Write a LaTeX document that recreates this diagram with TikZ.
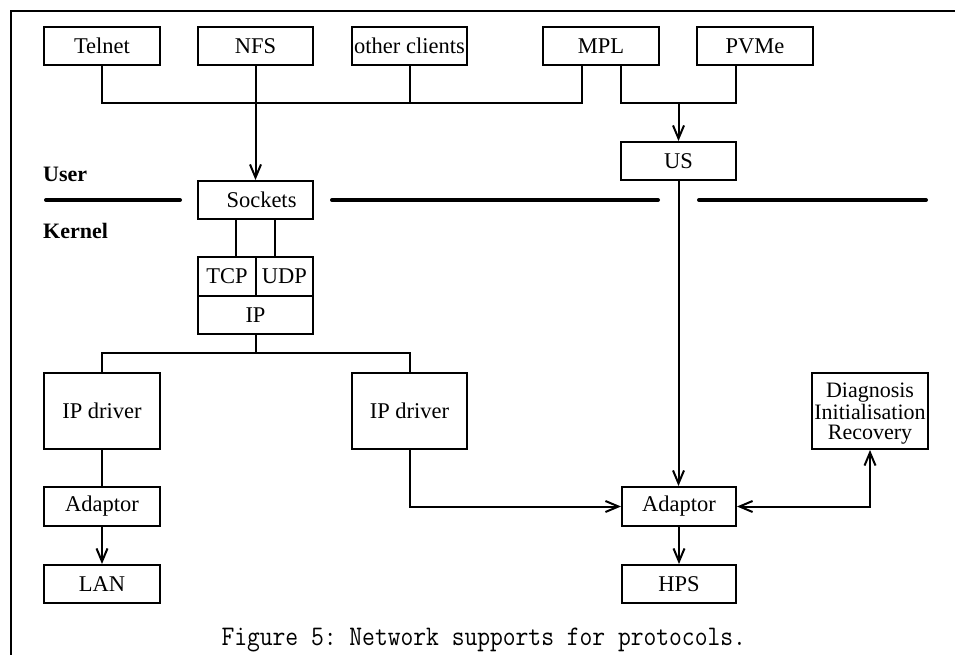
\documentclass[tikz,border=0pt]{standalone}
\usepackage{fontspec}
\setmainfont{Liberation Serif}
\usetikzlibrary{arrows.meta}
\begin{document}
\begin{tikzpicture}[x=1pt,y=-1pt,
  box/.style={draw,line width=2pt,inner sep=0pt,minimum height=38pt,
     font=\fontsize{22.5}{20}\selectfont},
  txt/.style={inner sep=0pt,font=\fontsize{22}{20}\selectfont,align=center},
  conn/.style={line width=2pt},
  arr/.style={conn,-{Straight Barb[length=13pt,width=11pt,line width=2pt]}},
  arrboth/.style={conn,{Straight Barb[length=13pt,width=11pt,line width=2pt]}-{Straight Barb[length=13pt,width=11pt,line width=2pt]}},
  sep/.style={line width=4pt,line cap=round},
  lbl/.style={font=\fontsize{22}{24}\selectfont\bfseries,anchor=base west,inner sep=0pt}]
\useasboundingbox (0,0) rectangle (955,655);
% frame
\draw[line width=2.4pt] (11,655) -- (11,11) -- (955,11);
% top row
\node[box,minimum width=116pt] (Telnet) at (102,46) {Telnet\hspace{17pt}};
\node[box,minimum width=115pt] (NFS) at (255.5,46) {NFS\hspace{18pt}};
\node[box,minimum width=115pt] (other) at (409.5,46) {other clients};
\node[box,minimum width=116pt] (MPL) at (601,46) {MPL\hspace{10pt}};
\node[box,minimum width=116pt] (PVMe) at (755,46) {PVMe};
\node[box,minimum width=115pt] (US) at (678.5,161) {US};
\node[box,minimum width=115pt] (Sockets) at (255.5,200) {\hspace{12pt}Sockets};
\node[box,minimum width=58pt,minimum height=39pt] (TCP) at (227,276.5) {TCP};
\node[box,minimum width=57pt,minimum height=39pt] (UDP) at (284.5,276.5) {UDP};
\node[box,minimum width=115pt] (IP) at (255.5,315) {IP};
\node[box,minimum width=116pt,minimum height=76pt] (IPdrvL) at (102,411) {IP driver};
\node[box,minimum width=115pt,minimum height=76pt] (IPdrvR) at (409.5,411) {IP driver};
\node[box,minimum width=116pt,minimum height=39pt] (AdL) at (102,506.5) {Adaptor};
\node[box,minimum width=116pt] (LAN) at (102,584) {LAN};
\node[box,minimum width=114pt,minimum height=39pt] (AdR) at (679,506.5) {Adaptor};
\node[box,minimum width=114pt] (HPS) at (679,584) {HPS};
\node[box,minimum width=116pt,minimum height=76pt] (Diag) at (870,411) {};
\node[txt,anchor=base] (diagtxt) at (870,439) {Diagnosis\\Initialisation\\Recovery};
% labels
\node[lbl] (user) at (43,182) {User};
\node[lbl] (kernel) at (43,238) {Kernel};
% user/kernel separator
\coordinate (s1a) at (46,200); \coordinate (s1b) at (180,200);
\coordinate (s2a) at (332,200); \coordinate (s2b) at (658,200);
\coordinate (s3a) at (699,200); \coordinate (s3b) at (926,200);
\draw[sep] (s1a) -- (s1b);
\draw[sep] (s2a) -- (s2b);
\draw[sep] (s3a) -- (s3b);
% client bus
\coordinate (b1) at (582,103);
\coordinate (b2) at (621,103);
\coordinate (b3) at (736,103);
\draw[conn] (Telnet.south) |- (b1) -- (b1 |- MPL.south);
\draw[conn] (other.south) -- (other.south |- b1);
\draw[arr] (NFS.south) -- (Sockets.north);
\draw[conn] (b2 |- MPL.south) -- (b2) -- (b3) -- (b3 |- PVMe.south);
\draw[arr] (US.north |- b2) -- (US.north);
% sockets to TCP/UDP
\draw[conn] ([xshift=-20pt]Sockets.south) -- ([xshift=-20pt]Sockets.south |- TCP.north);
\draw[conn] ([xshift=19.5pt]Sockets.south) -- ([xshift=19.5pt]Sockets.south |- UDP.north);
% IP to drivers
\coordinate (ipb) at (255.5,353);
\draw[conn] (IP.south) -- (ipb);
\draw[conn] (IPdrvL.north) |- (ipb) -| (IPdrvR.north);
\draw[conn] (IPdrvL.south) -- (AdL.north);
\draw[arr] (AdL.south) -- (LAN.north);
\draw[arr] (IPdrvR.south) |- (AdR.west);
\draw[arr] (US.south) -- (US.south |- AdR.north);
\draw[arr] (AdR.south) -- (HPS.north);
\draw[arrboth] (AdR.east) -| (Diag.south);
% caption
\node[anchor=base,inner sep=0pt] (cap) at (484,645) {\scalebox{1}[1.14]{\fontencoding{OT1}\fontfamily{cmtt}\fontsize{23.5}{26}\selectfont\frenchspacing Figure 5: Network supports for protocols.}};
\end{tikzpicture}
\end{document}
